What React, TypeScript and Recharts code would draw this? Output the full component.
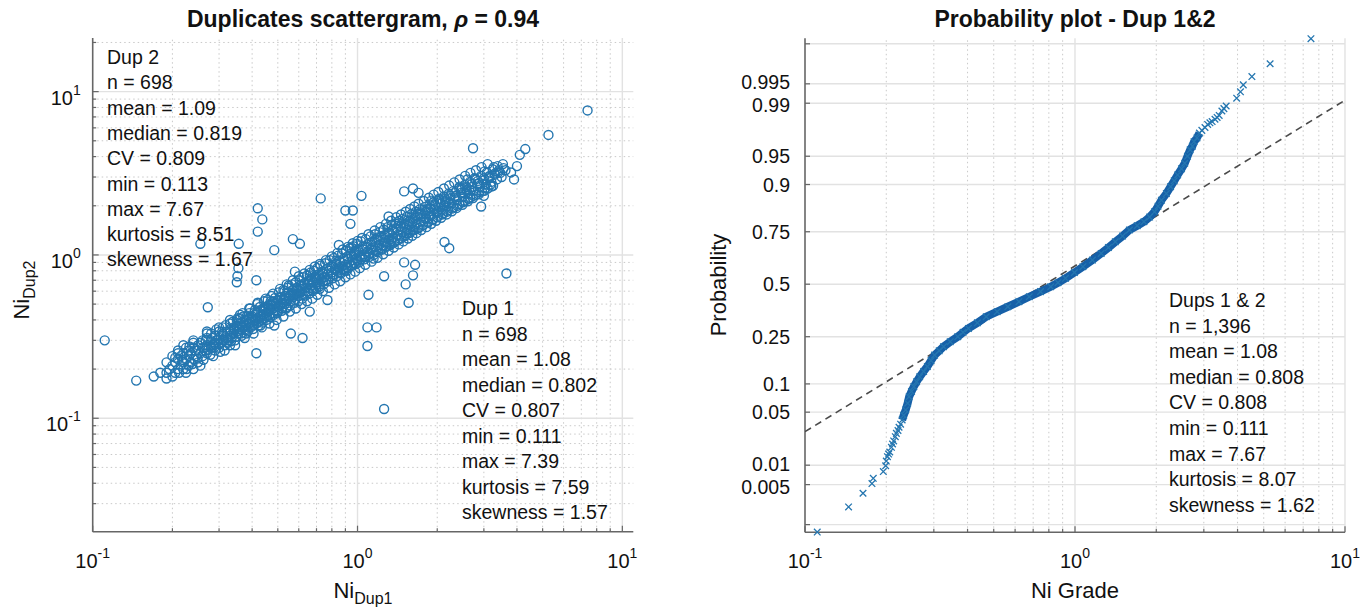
import React from 'react';
import { ScatterChart, Scatter, XAxis, YAxis, ReferenceLine } from 'recharts';

const FONT = '"Liberation Sans", Arial, Helvetica, sans-serif';
const AXIS = '#666666';
const GRID_MAJOR = '#e2e2e2';
const GRID_MINOR = '#c9c9c9';
const BLUE = '#2476b0';
const BLUE_DARK = '#1660a8';
const TEXT = '#111111';

// ---- Duplicates scattergram (Ni, Dup 1 vs Dup 2) ----
const dup1 = [
  0.111, 0.146, 0.17, 0.18, 0.19, 0.272, 0.255, 0.356, 0.42, 0.437,
  0.42, 0.485, 0.57, 0.606, 0.726, 0.9, 0.96, 0.94, 1.035, 0.35,
  0.352, 0.355, 0.415, 0.56, 0.62, 0.415, 0.485, 1.09, 1.18, 1.09,
  1.56, 1.26, 1.1, 1.52, 1.62, 1.65, 1.5, 2.13, 2.22, 2.93,
  2.73, 0.85, 1.31, 1.4, 1.26, 0.77, 0.66, 0.58, 3.65, 7.39,
  5.26, 4.3, 4.1, 1.5, 1.62, 1.7, 3.8, 4.0, 3.9, 3.0,
  0.19, 0.19, 0.195, 0.2, 0.2, 0.2, 0.205, 0.205, 0.21, 0.21,
  0.21, 0.215, 0.215, 0.22, 0.22, 0.22, 0.225, 0.225, 0.23, 0.23,
  0.23, 0.235, 0.235, 0.24, 0.24, 0.24, 0.245, 0.25, 0.25, 0.25,
  0.255, 0.26, 0.26, 0.26, 0.265, 0.27, 0.27, 0.27, 0.28, 0.28,
  0.28, 0.285, 0.29, 0.29, 0.29, 0.295, 0.3, 0.3, 0.3, 0.305,
  0.31, 0.31, 0.31, 0.315, 0.32, 0.32, 0.325, 0.33, 0.33, 0.33,
  0.335, 0.34, 0.34, 0.345, 0.35, 0.35, 0.35, 0.355, 0.36, 0.36,
  0.365, 0.37, 0.37, 0.37, 0.375, 0.38, 0.38, 0.385, 0.39, 0.39,
  0.39, 0.395, 0.4, 0.4, 0.405, 0.41, 0.41, 0.41, 0.415, 0.42,
  0.42, 0.425, 0.43, 0.43, 0.435, 0.44, 0.44, 0.445, 0.45, 0.45,
  0.455, 0.46, 0.46, 0.465, 0.47, 0.47, 0.48, 0.48, 0.48, 0.49,
  0.49, 0.5, 0.5, 0.5, 0.51, 0.51, 0.52, 0.52, 0.53, 0.53,
  0.54, 0.54, 0.55, 0.55, 0.56, 0.56, 0.57, 0.57, 0.58, 0.58,
  0.59, 0.59, 0.6, 0.6, 0.61, 0.61, 0.62, 0.62, 0.63, 0.63,
  0.64, 0.65, 0.65, 0.66, 0.66, 0.67, 0.68, 0.68, 0.69, 0.7,
  0.7, 0.71, 0.72, 0.72, 0.73, 0.74, 0.74, 0.75, 0.76, 0.77,
  0.78, 0.79, 0.8, 0.8, 0.81, 0.82, 0.83, 0.84, 0.85, 0.86,
  0.86, 0.87, 0.88, 0.89, 0.9, 0.91, 0.92, 0.93, 0.94, 0.95,
  0.96, 0.97, 0.98, 0.99, 1.0, 1.01, 1.02, 1.03, 1.05, 1.06,
  1.07, 1.08, 1.09, 1.1, 1.12, 1.13, 1.14, 1.16, 1.17, 1.18,
  1.2, 1.21, 1.23, 1.25, 1.26, 1.28, 1.3, 1.31, 1.33, 1.35,
  1.36, 1.38, 1.4, 1.42, 1.44, 1.46, 1.48, 1.5, 1.52, 1.54,
  1.56, 1.58, 1.6, 1.62, 1.65, 1.67, 1.7, 1.72, 1.74, 1.77,
  1.8, 1.82, 1.85, 1.88, 1.9, 1.93, 1.96, 1.99, 2.02, 2.05,
  2.08, 2.11, 2.14, 2.17, 2.2, 2.24, 2.27, 2.3, 2.34, 2.38,
  2.42, 2.46, 2.5, 2.54, 2.58, 2.62, 2.66, 2.7, 2.75, 2.8,
  2.85, 2.9, 2.95, 3.0, 3.05, 3.1, 3.15, 3.2, 3.25, 3.3,
  3.36, 3.42, 3.5, 3.56, 0.95, 1.15, 1.9, 2.6, 0.55, 0.38,
  0.83, 0.91, 0.99, 1.04, 1.11, 1.19, 1.27, 1.34, 1.43, 1.53,
  1.61, 1.69, 1.78, 1.87, 1.95, 2.04, 2.13, 2.22, 2.32, 2.43,
  2.52, 2.64, 2.77, 2.88, 3.02, 3.14, 3.27, 3.4, 1.44, 2.0,
  0.66, 0.72, 0.53, 0.47, 0.43, 0.36, 0.33, 0.27, 0.24, 0.22,
  0.205, 0.212, 0.218, 0.226, 0.232, 0.238, 0.244, 0.249, 0.256, 0.262,
  0.267, 0.273, 0.278, 0.283, 0.288, 0.293, 0.298, 0.303, 0.308, 0.313,
  0.318, 0.323, 0.328, 0.333, 0.338, 0.343, 0.348, 0.353, 0.358, 0.363,
  0.368, 0.373, 0.378, 0.383, 0.388, 0.393, 0.398, 0.403, 0.408, 0.413,
  0.418, 0.423, 0.428, 0.433, 0.438, 0.443, 0.448, 0.453, 0.458, 0.463,
  0.468, 0.473, 0.478, 0.483, 0.488, 0.493, 0.498, 0.505, 0.512, 0.518,
  0.525, 0.532, 0.538, 0.545, 0.552, 0.558, 0.565, 0.572, 0.578, 0.585,
  0.592, 0.598, 0.605, 0.612, 0.618, 0.625, 0.632, 0.638, 0.645, 0.652,
  0.658, 0.665, 0.672, 0.678, 0.685, 0.692, 0.698, 0.705, 0.712, 0.718,
  0.725, 0.735, 0.745, 0.755, 0.765, 0.775, 0.785, 0.795, 0.805, 0.815,
  0.825, 0.835, 0.845, 0.855, 0.865, 0.875, 0.885, 0.895, 0.905, 0.915,
  0.925, 0.935, 0.945, 0.955, 0.965, 0.975, 0.985, 0.995, 1.005, 1.015,
  1.03, 1.045, 1.06, 1.075, 1.09, 1.105, 1.12, 1.135, 1.15, 1.165,
  1.18, 1.195, 1.21, 1.225, 1.24, 1.255, 1.27, 1.285, 1.3, 1.315,
  1.33, 1.345, 1.36, 1.375, 1.39, 1.405, 1.42, 1.435, 1.45, 1.465,
  1.48, 1.5, 1.52, 1.54, 1.56, 1.58, 1.6, 1.62, 1.64, 1.66,
  1.68, 1.7, 1.72, 1.745, 1.77, 1.795, 1.82, 1.845, 1.87, 1.895,
  1.92, 1.945, 1.97, 2.0, 2.03, 2.06, 2.09, 2.12, 2.15, 2.18,
  2.21, 2.24, 2.27, 2.3, 2.34, 2.38, 2.42, 2.46, 2.5, 2.54,
  2.58, 2.62, 2.66, 2.7, 2.74, 2.78, 2.83, 2.88, 2.93, 2.98,
  3.03, 3.08, 3.13, 3.18, 3.24, 3.3, 3.38, 3.46, 3.54, 3.62,
  0.21, 0.225, 0.24, 0.255, 0.27, 0.285, 0.3, 0.315, 0.33, 0.345,
  0.36, 0.375, 0.39, 0.405, 0.42, 0.435, 0.45, 0.465, 0.48, 0.495,
  0.51, 0.525, 0.54, 0.555, 0.57, 0.585, 0.6, 0.615, 0.63, 0.645,
  0.66, 0.675, 0.69, 0.705, 0.72, 0.74, 0.76, 0.78, 0.8, 0.82,
  0.84, 0.86, 0.88, 0.9, 0.92, 0.94, 0.96, 0.98, 1.0, 1.02,
  1.04, 1.07, 1.1, 1.13, 1.16, 1.19, 1.22, 1.25, 1.28, 1.31,
  1.34, 1.37, 1.4, 1.43, 1.46, 1.49, 1.52, 1.55, 1.58, 1.61,
  1.64, 1.67, 1.7, 1.74, 1.78, 1.82, 1.86, 1.9, 1.94, 1.98,
  2.02, 2.07, 2.12, 2.17, 2.22, 2.27, 2.32, 2.37, 2.43, 2.49,
  2.55, 2.61, 2.67, 2.73, 2.8, 2.87, 2.94, 3.01, 3.1, 3.2,
  0.515, 0.605, 0.71, 0.83, 0.97, 1.13, 1.32, 1.57, 1.84, 2.15,
  2.48, 0.265, 0.31, 0.37, 0.44, 0.29, 0.34, 0.4, 0.465, 0.56,
];

const dup2 = [
  0.30, 0.17, 0.18, 0.19, 0.175, 0.478, 1.17, 1.17, 1.93, 1.65,
  1.39, 1.07, 1.25, 1.17, 2.22, 1.87, 1.87, 1.55, 2.3, 0.68,
  0.74, 0.83, 0.70, 0.33, 0.31, 0.25, 0.37, 0.36, 0.36, 0.277,
  0.51, 0.114, 0.57, 0.66, 0.75, 0.87, 0.9, 1.2, 1.1, 1.98,
  4.5, 1.15, 1.72, 1.55, 0.74, 0.53, 0.45, 0.79, 0.77, 7.67,
  5.43, 4.45, 4.1, 2.45, 2.55, 2.4, 3.2, 3.5, 2.9, 2.3,
  0.19, 0.22, 0.2, 0.18, 0.21, 0.24, 0.19, 0.22, 0.2, 0.23,
  0.26, 0.21, 0.24, 0.2, 0.22, 0.25, 0.23, 0.27, 0.21, 0.24,
  0.26, 0.22, 0.25, 0.23, 0.27, 0.29, 0.24, 0.22, 0.26, 0.28,
  0.25, 0.24, 0.27, 0.3, 0.26, 0.25, 0.28, 0.31, 0.27, 0.3,
  0.33, 0.28, 0.26, 0.29, 0.32, 0.3, 0.27, 0.31, 0.34, 0.29,
  0.3, 0.33, 0.36, 0.28, 0.31, 0.34, 0.3, 0.32, 0.35, 0.38,
  0.31, 0.33, 0.36, 0.3, 0.34, 0.37, 0.4, 0.33, 0.35, 0.38,
  0.32, 0.36, 0.39, 0.42, 0.35, 0.37, 0.4, 0.34, 0.38, 0.41,
  0.44, 0.36, 0.39, 0.42, 0.37, 0.4, 0.43, 0.46, 0.38, 0.41,
  0.44, 0.39, 0.42, 0.46, 0.4, 0.43, 0.47, 0.41, 0.44, 0.48,
  0.42, 0.45, 0.49, 0.43, 0.46, 0.5, 0.44, 0.47, 0.52, 0.46,
  0.5, 0.48, 0.53, 0.45, 0.49, 0.55, 0.47, 0.51, 0.5, 0.56,
  0.52, 0.48, 0.54, 0.59, 0.52, 0.56, 0.55, 0.61, 0.53, 0.57,
  0.58, 0.63, 0.56, 0.6, 0.59, 0.65, 0.57, 0.62, 0.6, 0.67,
  0.63, 0.6, 0.66, 0.63, 0.7, 0.65, 0.62, 0.68, 0.72, 0.66,
  0.7, 0.68, 0.74, 0.66, 0.71, 0.69, 0.77, 0.73, 0.7, 0.76,
  0.8, 0.74, 0.78, 0.85, 0.76, 0.81, 0.88, 0.8, 0.84, 0.78,
  0.9, 0.85, 0.82, 0.92, 0.87, 0.84, 0.95, 0.9, 0.86, 0.98,
  0.93, 0.89, 1.01, 0.95, 0.92, 1.04, 0.98, 0.94, 1.08, 1.01,
  0.97, 1.12, 1.05, 1.0, 1.16, 1.08, 1.03, 1.2, 1.12, 1.06,
  1.24, 1.15, 1.1, 1.29, 1.19, 1.13, 1.34, 1.24, 1.17, 1.4,
  1.28, 1.21, 1.45, 1.33, 1.26, 1.5, 1.38, 1.3, 1.56, 1.43,
  1.36, 1.62, 1.49, 1.42, 1.69, 1.55, 1.47, 1.76, 1.6, 1.53,
  1.84, 1.67, 1.6, 1.93, 1.75, 1.66, 2.02, 1.82, 1.74, 2.1,
  1.9, 1.8, 2.2, 1.98, 1.88, 2.3, 2.07, 1.96, 2.4, 2.16,
  2.05, 2.5, 2.27, 2.14, 2.6, 2.37, 2.24, 2.72, 2.48, 2.34,
  2.84, 2.6, 2.45, 2.95, 2.7, 2.55, 3.05, 2.8, 2.65, 3.15,
  2.9, 3.3, 3.0, 3.4, 1.1, 0.95, 2.15, 2.9, 0.65, 0.33,
  0.92, 0.8, 1.06, 0.97, 1.02, 1.28, 1.2, 1.22, 1.56, 1.36,
  1.57, 1.78, 1.68, 1.74, 1.9, 2.2, 2.02, 2.08, 2.25, 2.62,
  2.4, 2.52, 2.95, 2.76, 3.25, 2.95, 3.45, 3.2, 1.62, 1.85,
  0.75, 0.62, 0.6, 0.52, 0.37, 0.41, 0.28, 0.34, 0.2, 0.28,
  0.235, 0.19, 0.228, 0.2, 0.275, 0.215, 0.26, 0.232, 0.29, 0.228,
  0.3, 0.262, 0.245, 0.31, 0.272, 0.35, 0.285, 0.255, 0.338, 0.302,
  0.372, 0.29, 0.34, 0.296, 0.39, 0.352, 0.315, 0.41, 0.36, 0.33,
  0.44, 0.381, 0.345, 0.425, 0.36, 0.47, 0.41, 0.352, 0.445, 0.395,
  0.5, 0.37, 0.48, 0.425, 0.385, 0.52, 0.46, 0.4, 0.53, 0.47,
  0.415, 0.56, 0.49, 0.43, 0.545, 0.51, 0.44, 0.59, 0.5, 0.455,
  0.61, 0.53, 0.47, 0.63, 0.56, 0.49, 0.66, 0.58, 0.51, 0.68,
  0.61, 0.52, 0.7, 0.64, 0.54, 0.73, 0.66, 0.565, 0.75, 0.69,
  0.58, 0.78, 0.7, 0.6, 0.8, 0.74, 0.62, 0.83, 0.76, 0.64,
  0.86, 0.79, 0.66, 0.89, 0.82, 0.69, 0.93, 0.85, 0.72, 0.96,
  0.88, 0.74, 0.99, 0.92, 0.77, 1.02, 0.95, 0.8, 1.06, 0.98,
  0.83, 1.1, 1.02, 0.86, 1.13, 1.05, 0.88, 1.17, 1.08, 0.9,
  1.21, 1.12, 0.94, 1.25, 1.16, 0.97, 1.3, 1.2, 1.0, 1.34,
  1.24, 1.04, 1.38, 1.28, 1.08, 1.43, 1.32, 1.12, 1.48, 1.37,
  1.15, 1.52, 1.41, 1.19, 1.56, 1.46, 1.23, 1.61, 1.5, 1.27,
  1.66, 1.55, 1.32, 1.72, 1.6, 1.37, 1.78, 1.66, 1.42, 1.84,
  1.72, 1.46, 1.9, 1.78, 1.52, 1.97, 1.85, 1.58, 2.04, 1.92,
  1.64, 2.12, 1.99, 1.7, 2.2, 2.06, 1.77, 2.28, 2.14, 1.84,
  2.37, 2.22, 1.92, 2.46, 2.3, 2.0, 2.56, 2.4, 2.1, 2.68,
  2.5, 2.2, 2.8, 2.6, 2.3, 2.9, 2.72, 2.42, 3.05, 2.85,
  2.56, 3.2, 3.0, 2.7, 3.35, 3.1, 3.5, 3.18, 3.6, 3.3,
  0.25, 0.19, 0.3, 0.21, 0.33, 0.24, 0.36, 0.26, 0.4, 0.28,
  0.43, 0.31, 0.47, 0.33, 0.51, 0.36, 0.54, 0.38, 0.58, 0.4,
  0.62, 0.42, 0.66, 0.45, 0.7, 0.47, 0.74, 0.5, 0.77, 0.52,
  0.81, 0.54, 0.85, 0.57, 0.88, 0.6, 0.93, 0.63, 0.98, 0.66,
  1.03, 0.69, 1.08, 0.73, 1.12, 0.76, 1.18, 0.79, 1.22, 0.83,
  1.27, 0.87, 1.34, 0.91, 1.41, 0.96, 1.48, 1.01, 1.55, 1.06,
  1.62, 1.11, 1.7, 1.16, 1.77, 1.21, 1.84, 1.26, 1.91, 1.31,
  1.98, 1.36, 2.06, 1.42, 2.14, 1.48, 2.24, 1.55, 2.34, 1.62,
  2.43, 1.69, 2.55, 1.77, 2.66, 1.85, 2.78, 1.94, 2.9, 2.03,
  3.05, 2.13, 3.18, 2.23, 3.3, 2.35, 3.45, 2.47, 3.6, 2.62,
  0.53, 0.59, 0.73, 0.81, 1.0, 1.1, 1.36, 1.52, 1.9, 2.1,
  2.55, 0.27, 0.32, 0.365, 0.45, 0.285, 0.345, 0.405, 0.46, 0.57,
];

const dup2Stats = ['Dup 2', 'n = 698', 'mean = 1.09', 'median = 0.819', 'CV = 0.809', 'min = 0.113', 'max = 7.67', 'kurtosis = 8.51', 'skewness = 1.67'];
const dup1Stats = ['Dup 1', 'n = 698', 'mean = 1.08', 'median = 0.802', 'CV = 0.807', 'min = 0.111', 'max = 7.39', 'kurtosis = 7.59', 'skewness = 1.57'];

// ---- Probability plot (Dup 1 & 2 pooled) ----
const lowTailGrade = [0.111, 0.145, 0.164, 0.177, 0.179, 0.195, 0.199, 0.2, 0.202, 0.204, 0.206, 0.209, 0.211, 0.213, 0.216, 0.218, 0.221, 0.223, 0.226];
const lowTailProb = [0.00072, 0.0021, 0.0036, 0.0052, 0.0063, 0.008, 0.0098, 0.0115, 0.0133, 0.0145, 0.0155, 0.018, 0.02, 0.022, 0.025, 0.0276, 0.03, 0.033, 0.036];

const bandGrade = [
  0.229, 0.232, 0.236,
  0.24, 0.243, 0.248, 0.253, 0.259, 0.266, 0.275, 0.284, 0.293, 0.302,
  0.314, 0.326, 0.345, 0.368, 0.385, 0.403, 0.435, 0.469, 0.515, 0.564,
  0.62, 0.677, 0.745, 0.813, 0.865, 0.922, 0.995, 1.07, 1.16, 1.25,
  1.33, 1.41, 1.5, 1.59, 1.7, 1.8, 1.89, 1.97, 2.03, 2.09,
  2.18, 2.26, 2.33, 2.4, 2.48, 2.55, 2.61, 2.67, 2.72, 2.76,
  2.83, 2.89,
];
const bandProb = [
  0.0405, 0.046, 0.053,
  0.063, 0.074, 0.084, 0.094, 0.105, 0.117, 0.131, 0.145, 0.163, 0.181,
  0.196, 0.211, 0.23, 0.25, 0.268, 0.285, 0.31, 0.338, 0.362, 0.386,
  0.411, 0.436, 0.462, 0.487, 0.508, 0.53, 0.56, 0.589, 0.622, 0.654,
  0.681, 0.707, 0.732, 0.757, 0.774, 0.789, 0.806, 0.824, 0.842, 0.86,
  0.878, 0.895, 0.908, 0.92, 0.931, 0.94, 0.95, 0.958, 0.962, 0.9665,
  0.97, 0.974,
];

const highTailGrade = [2.95, 3.03, 3.1, 3.16, 3.22, 3.3, 3.36, 3.42, 3.5, 3.56, 3.63, 3.97, 4.1, 4.2, 4.52, 5.28, 7.48];
const highTailProb = [0.976, 0.978, 0.98, 0.981, 0.9817, 0.983, 0.984, 0.985, 0.987, 0.988, 0.989, 0.9916, 0.9933, 0.9948, 0.9962, 0.9977, 0.9992];

// reference (dashed) line end points
const refGrade = [0.1, 10];
const refProb = [0.029, 0.991];

const probTicks = [0.001, 0.005, 0.01, 0.05, 0.1, 0.25, 0.5, 0.75, 0.9, 0.95, 0.99, 0.995, 0.999];
const probTickLabels = ['', '0.005', '0.01', '0.05', '0.1', '0.25', '0.5', '0.75', '0.9', '0.95', '0.99', '0.995', ''];

const dupsStats = ['Dups 1 & 2', 'n = 1,396', 'mean = 1.08', 'median = 0.808', 'CV = 0.808', 'min = 0.111', 'max = 7.67', 'kurtosis = 8.07', 'skewness = 1.62'];

// log axis ticks
const xLogTicks = [0.1, 0.2, 0.3, 0.4, 0.5, 0.6, 0.7, 0.8, 0.9, 1, 2, 3, 4, 5, 6, 7, 8, 9, 10];
const yLogTicks = [0.03, 0.04, 0.05, 0.06, 0.07, 0.08, 0.09, 0.1, 0.2, 0.3, 0.4, 0.5, 0.6, 0.7, 0.8, 0.9, 1, 2, 3, 4, 5, 6, 7, 8, 9, 10, 20];

// inverse normal CDF (Acklam) for the probability axis
function probit(p: number): number {
  const a = [-39.69683028665376, 220.9460984245205, -275.9285104469687, 138.357751867269, -30.66479806614716, 2.506628277459239];
  const b = [-54.47609879822406, 161.5858368580409, -155.6989798598866, 66.80131188771972, -13.28068155288572];
  const c = [-0.007784894002430293, -0.3223964580411365, -2.400758277161838, -2.549732539343734, 4.374664141464968, 2.938163982698783];
  const d = [0.007784695709041462, 0.3224671290700398, 2.445134137142996, 3.754408661907416];
  const lo = 0.02425;
  if (p < lo) {
    const q = Math.sqrt(-2 * Math.log(p));
    return (((((c[0] * q + c[1]) * q + c[2]) * q + c[3]) * q + c[4]) * q + c[5]) / ((((d[0] * q + d[1]) * q + d[2]) * q + d[3]) * q + 1);
  }
  if (p > 1 - lo) {
    const q = Math.sqrt(-2 * Math.log(1 - p));
    return -(((((c[0] * q + c[1]) * q + c[2]) * q + c[3]) * q + c[4]) * q + c[5]) / ((((d[0] * q + d[1]) * q + d[2]) * q + d[3]) * q + 1);
  }
  const q = p - 0.5;
  const r = q * q;
  return ((((((a[0] * r + a[1]) * r + a[2]) * r + a[3]) * r + a[4]) * r + a[5]) * q) / (((((b[0] * r + b[1]) * r + b[2]) * r + b[3]) * r + b[4]) * r + 1);
}

const isDecade = (v: number) => Math.abs(Math.log10(v) - Math.round(Math.log10(v))) < 1e-6;

const scatterData = dup1.map((x, i) => ({ x, y: dup2[i] }));
const toProb = (g: number[], p: number[]) => g.map((x, i) => ({ x, z: probit(p[i]) }));
const lowTailData = toProb(lowTailGrade, lowTailProb);
const bandData = toProb(bandGrade, bandProb);
const highTailData = toProb(highTailGrade, highTailProb);
const refData = toProb(refGrade, refProb);
const probTickZ = probTicks.map(probit);
// small label nudges so that the close pairs (0.99/0.995, 0.005/0.01) read like the reference
const probLabelShift = [0, 2, -1, 0, 0, 0, 0, 0, 0, 0, 2, -1.5, 0];

// plot boxes (chart-local pixels)
const L = { w: 680, left: 92.7, right: 633.3, top: 38, bottom: 531.7 };
const R = { x0: 690, w: 679, left: 115, right: 655, top: 38.3, bottom: 532.3 };

const Pow10 = ({ x, y, exp, anchor }: { x: number; y: number; exp: number; anchor: 'middle' | 'end' }) => (
  <text x={x} y={y} textAnchor={anchor} fontFamily={FONT} fontSize={20} fill={TEXT}>
    10<tspan dy={-10} fontSize={14}>{String(exp)}</tspan>
  </text>
);

const xTick = (bottom: number) => (props: any) => {
  const { x, payload } = props;
  const v = payload.value as number;
  const major = isDecade(v);
  return (
    <g>
      <line x1={x} x2={x} y1={bottom} y2={bottom - (major ? 6 : 3.5)} stroke={AXIS} strokeWidth={1.2} />
      {major && <Pow10 x={x} y={bottom + 36} exp={Math.round(Math.log10(v))} anchor="middle" />}
    </g>
  );
};

const yLogTick = (left: number) => (props: any) => {
  const { y, payload } = props;
  const v = payload.value as number;
  const major = isDecade(v);
  return (
    <g>
      <line x1={left} x2={left + (major ? 6 : 3.5)} y1={y} y2={y} stroke={AXIS} strokeWidth={1.2} />
      {major && <Pow10 x={left - 12} y={y + 13} exp={Math.round(Math.log10(v))} anchor="end" />}
    </g>
  );
};

const probTick = (left: number) => (props: any) => {
  const { y, index } = props;
  return (
    <g>
      <line x1={left} x2={left + 5} y1={y} y2={y} stroke={AXIS} strokeWidth={1.2} />
      <text x={left - 15} y={y + 7 + probLabelShift[index]} textAnchor="end" fontFamily={FONT} fontSize={19.5} fill={TEXT}>
        {probTickLabels[index]}
      </text>
    </g>
  );
};

const Circle = (p: any) => <circle cx={p.cx} cy={p.cy} r={4.5} fill="none" stroke={BLUE} strokeWidth={1.4} />;
const Cross = (p: any) => (
  <path d={`M${p.cx - 3.3},${p.cy - 3.3}L${p.cx + 3.3},${p.cy + 3.3}M${p.cx - 3.3},${p.cy + 3.3}L${p.cx + 3.3},${p.cy - 3.3}`} stroke={BLUE} strokeWidth={1.3} fill="none" />
);
const NoShape = () => <g />;

const gridX = (ticks: number[]) =>
  ticks
    .filter((v) => v > 0.1)
    .map((v) =>
      isDecade(v) ? (
        <ReferenceLine key={`gx${v}`} x={v} stroke={GRID_MAJOR} strokeWidth={1.4} />
      ) : (
        <ReferenceLine key={`gx${v}`} x={v} stroke={GRID_MINOR} strokeWidth={1} strokeDasharray="1.5 3" />
      ),
    );

function LeftChart() {
  return (
    <ScatterChart width={L.w} height={613} margin={{ top: L.top, right: L.w - L.right, bottom: 0, left: 0 }}>
      <XAxis
        type="number"
        dataKey="x"
        scale="log"
        domain={[0.1, 11]}
        allowDataOverflow
        ticks={xLogTicks}
        interval={0}
        height={613 - L.bottom}
        tickLine={false}
        axisLine={{ stroke: AXIS, strokeWidth: 1.6 }}
        tick={xTick(L.bottom)}
      />
      <YAxis
        type="number"
        dataKey="y"
        scale="log"
        domain={[0.0202, 21.3]}
        allowDataOverflow
        ticks={yLogTicks}
        interval={0}
        width={L.left}
        tickLine={false}
        axisLine={{ stroke: AXIS, strokeWidth: 1.6 }}
        tick={yLogTick(L.left)}
      />
      {gridX(xLogTicks)}
      {yLogTicks.map((v) =>
        isDecade(v) ? (
          <ReferenceLine key={`gy${v}`} y={v} stroke={GRID_MAJOR} strokeWidth={1.4} />
        ) : (
          <ReferenceLine key={`gy${v}`} y={v} stroke={GRID_MINOR} strokeWidth={1} strokeDasharray="1.5 3" />
        ),
      )}
      <Scatter data={scatterData} shape={Circle} isAnimationActive={false} />
    </ScatterChart>
  );
}

function RightChart() {
  return (
    <ScatterChart width={R.w} height={613} margin={{ top: R.top, right: R.w - R.right, bottom: 0, left: 0 }}>
      <XAxis
        type="number"
        dataKey="x"
        scale="log"
        domain={[0.1, 10]}
        allowDataOverflow
        ticks={xLogTicks}
        interval={0}
        height={613 - R.bottom}
        tickLine={false}
        axisLine={{ stroke: AXIS, strokeWidth: 1.6 }}
        tick={xTick(R.bottom)}
      />
      <YAxis
        type="number"
        dataKey="z"
        domain={[-3.189, 3.161]}
        ticks={probTickZ}
        interval={0}
        width={R.left}
        tickLine={false}
        axisLine={{ stroke: AXIS, strokeWidth: 1.6 }}
        tick={probTick(R.left)}
      />
      {gridX(xLogTicks)}
      {probTickZ.map((z, i) => (
        <ReferenceLine key={`pz${i}`} y={z} stroke={GRID_MAJOR} strokeWidth={1.4} />
      ))}
      <Scatter
        data={refData}
        shape={NoShape}
        line={{ stroke: '#4a4a4a', strokeWidth: 1.6, strokeDasharray: '7 5' }}
        isAnimationActive={false}
      />
      <Scatter
        data={bandData}
        shape={Cross}
        line={{ stroke: BLUE_DARK, strokeWidth: 8 }}
        isAnimationActive={false}
      />
      <Scatter data={lowTailData} shape={Cross} isAnimationActive={false} />
      <Scatter data={highTailData} shape={Cross} isAnimationActive={false} />
    </ScatterChart>
  );
}

const StatsBlock = ({ x, y, lines, step }: { x: number; y: number; lines: string[]; step: number }) => (
  <text fontFamily={FONT} fontSize={19.5} fill={TEXT}>
    {lines.map((s, i) => (
      <tspan key={i} x={x} y={y + i * step}>
        {s}
      </tspan>
    ))}
  </text>
);

export default function App() {
  return (
    <div style={{ position: 'absolute', left: 0, top: 0, width: 1369, height: 613, background: '#fff', fontFamily: FONT }}>
      <div style={{ position: 'absolute', left: 0, top: 0 }}>
        <LeftChart />
      </div>
      <div style={{ position: 'absolute', left: R.x0, top: 0 }}>
        <RightChart />
      </div>
      <svg width={1369} height={613} style={{ position: 'absolute', left: 0, top: 0, pointerEvents: 'none' }}>
        <text x={363} y={27} textAnchor="middle" fontFamily={FONT} fontWeight="bold" fontSize={23} fill={TEXT}>
          Duplicates scattergram, <tspan fontStyle="italic">ρ</tspan> = 0.94
        </text>
        <text x={1075} y={27} textAnchor="middle" fontFamily={FONT} fontWeight="bold" fontSize={23} fill={TEXT}>
          {'Probability plot - Dup 1&2'}
        </text>

        <text transform="translate(29,290) rotate(-90)" textAnchor="middle" fontFamily={FONT} fontSize={22} fill={TEXT}>
          Ni<tspan dy={6} fontSize={16}>Dup2</tspan>
        </text>
        <text x={363} y={598} textAnchor="middle" fontFamily={FONT} fontSize={22} fill={TEXT}>
          Ni<tspan dy={6} fontSize={16}>Dup1</tspan>
        </text>
        <text transform="translate(726,285) rotate(-90)" textAnchor="middle" fontFamily={FONT} fontSize={22} fill={TEXT}>
          Probability
        </text>
        <text x={1075} y={598} textAnchor="middle" fontFamily={FONT} fontSize={22} fill={TEXT}>
          Ni Grade
        </text>

        <StatsBlock x={107} y={64} lines={dup2Stats} step={25.3} />
        <StatsBlock x={462} y={315} lines={dup1Stats} step={25.5} />
        <StatsBlock x={1169} y={307} lines={dupsStats} step={25.6} />
      </svg>
    </div>
  );
}
